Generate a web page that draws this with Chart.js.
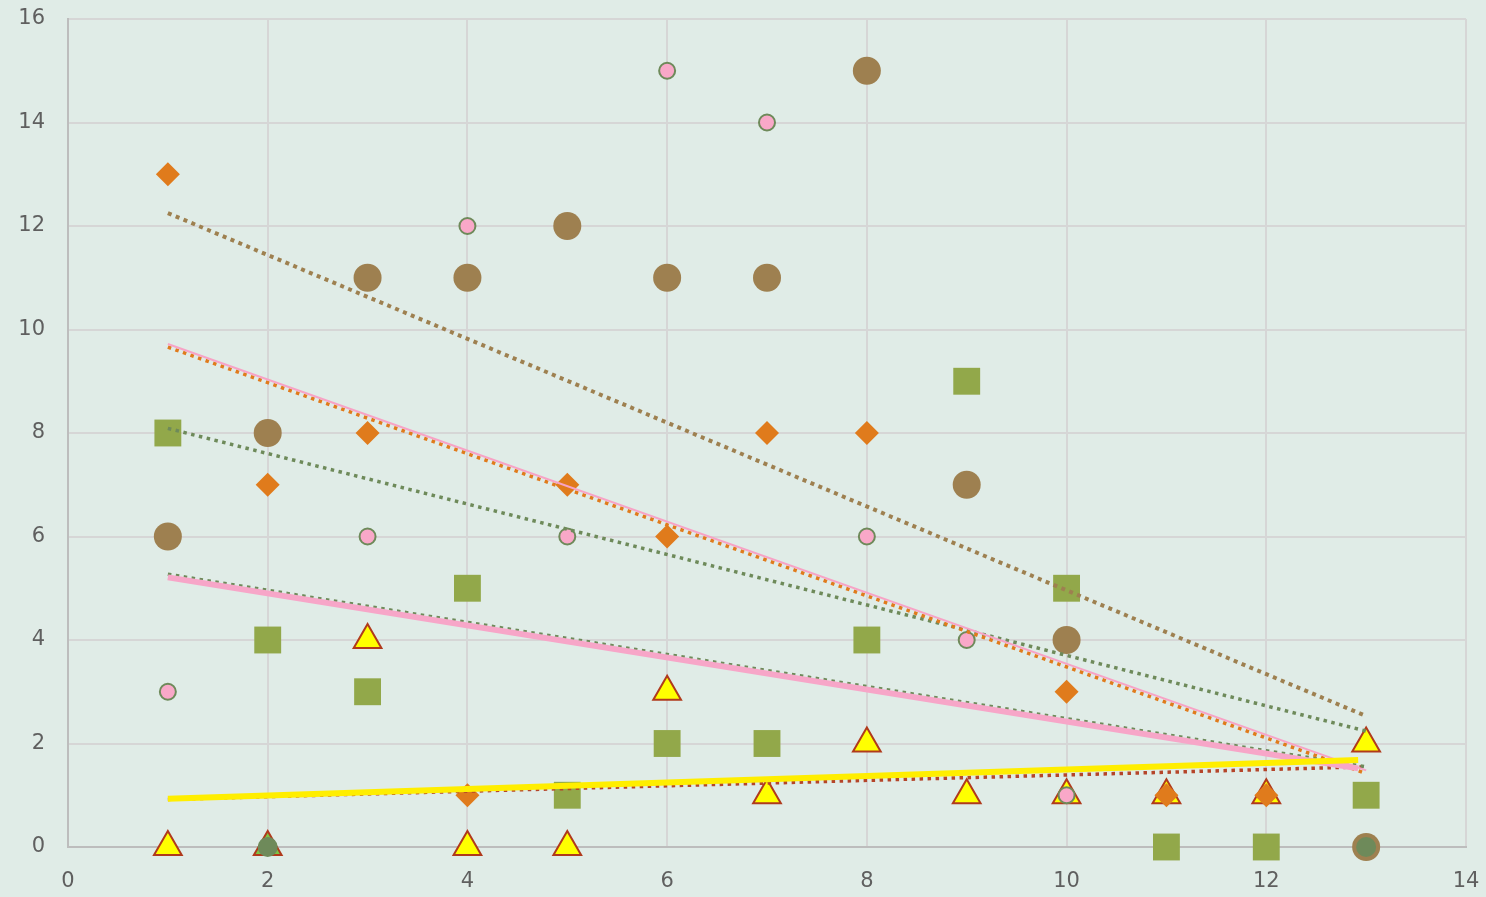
<!DOCTYPE html>
<html>
<head>
<meta charset="utf-8">
<script src="https://cdn.jsdelivr.net/npm/chart.js@4"></script>
<style>
  body { margin: 0; background: #e0ece7; }
  #wrap { width: 1486px; height: 897px; }
</style>
</head>
<body>
<div id="wrap"><canvas id="chart"></canvas></div>
<script>
// Marker series (x, y)
const pinkX = [1, 3, 4, 5, 6, 7, 8, 9, 10];
const pinkY = [3, 6, 12, 6, 15, 14, 6, 4, 1];

const orangeX = [1, 2, 3, 4, 5, 6, 7, 8, 10, 11, 12];
const orangeY = [13, 7, 8, 1, 7, 6, 8, 8, 3, 1, 1];

const brownX = [1, 2, 3, 4, 5, 6, 7, 8, 9, 10, 13];
const brownY = [6, 8, 11, 11, 12, 11, 11, 15, 7, 4, 0];

const squareX = [1, 2, 3, 4, 5, 6, 7, 8, 9, 10, 11, 12, 13];
const squareY = [8, 4, 3, 5, 1, 2, 2, 4, 9, 5, 0, 0, 1];

const triX = [1, 3, 4, 5, 6, 7, 8, 9, 10, 11, 12, 13];
const triY = [0, 4, 0, 0, 3, 1, 2, 1, 1, 1, 1, 2];

const lightTriX = [2];
const lightTriY = [0];

const darkX = [2, 13];
const darkY = [0, 0];

// Trend lines: start / end values
const trendX = [1, 13];
const shortTrendX = [1, 12.92];
const brownTrend = [12.25, 2.53];
const greenTrend = [8.09, 2.24];
const orangeTrend = [9.66, 1.42];
const pinkThinTrend = [9.72, 1.48];
const darkTrend = [5.27, 1.55];
const pinkTrend = [5.21, 1.52];
const redTrend = [0.92, 1.55];
const yellowTrend = [0.93, 1.68];

const xTicks = [0, 2, 4, 6, 8, 10, 12, 14];
const yTicks = [0, 2, 4, 6, 8, 10, 12, 14, 16];

function pts(xs, ys) {
    return xs.map((x, i) => ({ x: x, y: ys[i] }));
}

function markers(xs, ys, style, radius, fill, border, bw, order) {
    return {
        data: pts(xs, ys),
        pointStyle: style,
        pointRadius: radius,
        pointHoverRadius: radius,
        pointBackgroundColor: fill,
        pointBorderColor: border,
        pointBorderWidth: bw,
        showLine: false,
        clip: false,
        order: order
    };
}

function trend(xs, ys, color, width, dash, order) {
    return {
        data: pts(xs, ys),
        showLine: true,
        pointRadius: 0,
        borderColor: color,
        borderWidth: width,
        borderDash: dash,
        borderCapStyle: 'butt',
        fill: false,
        clip: false,
        order: order
    };
}

const datasets = [
    markers(brownX, brownY, 'circle', 14, '#9e8050', '#9e8050', 0, 20),
    markers(squareX, squareY, 'rect', 19, '#92a84a', '#92a84a', 0, 19),
    markers(lightTriX, lightTriY, 'triangle', 16, '#7cc444', '#b03a1c', 2, 18),
    markers(triX, triY, 'triangle', 16, '#ffff00', '#b03a1c', 2, 17),
    markers(orangeX, orangeY, 'rectRot', 12, '#e07b1c', '#e07b1c', 0, 16),
    markers(pinkX, pinkY, 'circle', 8, '#f9a8c8', '#6e8a5a', 2, 15),
    markers(darkX, darkY, 'circle', 10, '#6e8a5a', '#6e8a5a', 0, 14),

    trend(trendX, redTrend, '#b5452a', 3.5, [3.5, 4.5], 9),
    trend(trendX, brownTrend, '#9e8050', 4, [4, 4.5], 8),
    trend(trendX, greenTrend, '#6e8a5a', 3.5, [3.5, 4.5], 7),
    trend(trendX, darkTrend, '#6e8a5a', 3.5, [3.5, 4.5], 6),
    trend(trendX, orangeTrend, '#e07b1c', 3.5, [3.5, 4.5], 5),
    trend(trendX, pinkThinTrend, '#f7a3c6', 2, [], 4),
    trend(shortTrendX, pinkTrend, '#f7a6c8', 6, [], 3),
    trend(shortTrendX, yellowTrend, '#ffee00', 6, [], 2)
];

new Chart(document.getElementById('chart'), {
    type: 'scatter',
    data: { datasets: datasets },
    options: {
        responsive: true,
        maintainAspectRatio: false,
        animation: false,
        events: [],
        layout: { padding: { top: 18, right: 20, left: 0, bottom: 0 } },
        plugins: {
            legend: { display: false },
            tooltip: { enabled: false }
        },
        scales: {
            x: {
                type: 'linear',
                min: 0,
                max: 14,
                afterBuildTicks: (scale) => { scale.ticks = xTicks.map(v => ({ value: v })); },
                afterFit: (scale) => { scale.height = 50; },
                grid: { color: '#d6d6d6', lineWidth: 2, drawTicks: true, tickLength: 19, tickColor: 'rgba(0,0,0,0)' },
                border: { color: '#bdbdbd', width: 2 },
                ticks: { color: '#5f5f5f', padding: 3, font: { family: 'DejaVu Sans', size: 21 } }
            },
            y: {
                type: 'linear',
                min: 0,
                max: 16,
                afterBuildTicks: (scale) => { scale.ticks = yTicks.map(v => ({ value: v })); },
                afterFit: (scale) => { scale.width = 68; },
                grid: { color: '#d6d6d6', lineWidth: 2, drawTicks: true, tickLength: 20, tickColor: 'rgba(0,0,0,0)' },
                border: { color: '#bdbdbd', width: 2 },
                ticks: { color: '#5f5f5f', padding: 3, font: { family: 'DejaVu Sans', size: 21 } }
            }
        }
    }
});
</script>
</body>
</html>
